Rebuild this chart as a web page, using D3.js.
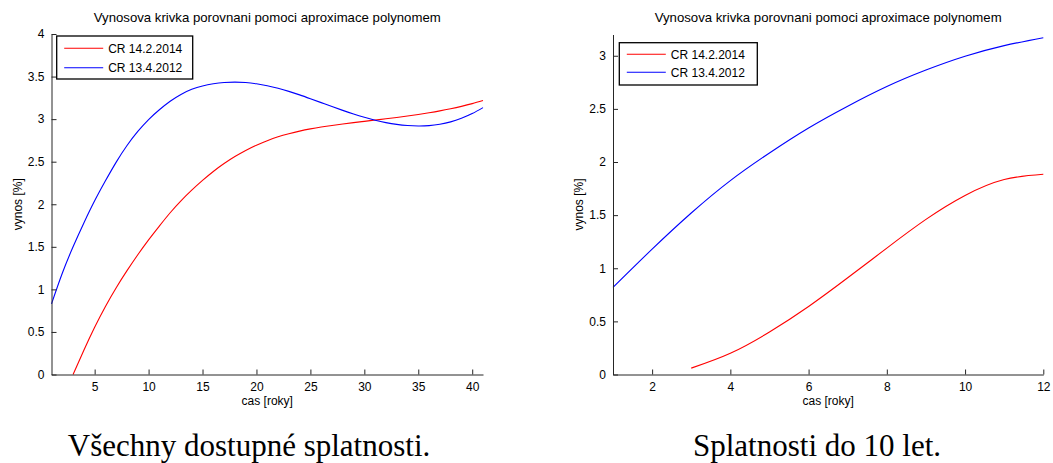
<!DOCTYPE html>
<html>
<head>
<meta charset="utf-8">
<script src="https://cdn.jsdelivr.net/npm/d3@7"></script>
<style>
  html, body { margin: 0; padding: 0; background: #fff; }
  svg { display: block; }
  .ax text { font-family: "Liberation Sans", Arial, sans-serif; font-size: 12px; fill: #000; }
  .caption { font-family: "Liberation Serif", "Times New Roman", serif; font-size: 31px; fill: #000; }
</style>
</head>
<body>
<svg id="fig" width="1053" height="463"></svg>
<script>
// Yield curve polynomial fits, Czech government bonds (maturity in years -> yield in %)
const titleText = "Vynosova krivka porovnani pomoci aproximace polynomem";
const xLabel = "cas [roky]";
const yLabel = "vynos [%]";
const seriesNames = ["CR 14.2.2014", "CR 13.4.2012"];
const seriesColors = ["#ff0000", "#0000ff"];

// Panel A: all available maturities
const allYears2014 = [3, 4, 5, 6, 7, 8, 9, 10, 11, 12, 13, 14, 15, 16, 17, 18, 19, 20, 21, 22, 23, 24, 25, 26, 27, 28, 29, 30, 31, 32, 33, 34, 35, 36, 37, 38, 39, 40, 41];
const allYield2014 = [0, 0.285, 0.555, 0.80, 1.02, 1.22, 1.407, 1.582, 1.744, 1.90, 2.04, 2.165, 2.28, 2.385, 2.478, 2.56, 2.632, 2.694, 2.747, 2.792, 2.828, 2.859, 2.885, 2.907, 2.926, 2.943, 2.959, 2.974, 2.989, 3.004, 3.02, 3.037, 3.055, 3.075, 3.097, 3.122, 3.15, 3.182, 3.219];
const allYears2012 = [1, 2, 3, 4, 5, 6, 7, 8, 9, 10, 11, 12, 13, 14, 15, 16, 17, 18, 19, 20, 21, 22, 23, 24, 25, 26, 27, 28, 29, 30, 31, 32, 33, 34, 35, 36, 37, 38, 39, 40, 41];
const allYield2012 = [0.83, 1.19, 1.50, 1.78, 2.04, 2.275, 2.495, 2.69, 2.855, 2.995, 3.11, 3.21, 3.29, 3.35, 3.39, 3.415, 3.43, 3.435, 3.43, 3.415, 3.392, 3.362, 3.326, 3.285, 3.24, 3.194, 3.148, 3.103, 3.06, 3.021, 2.987, 2.959, 2.938, 2.925, 2.92, 2.924, 2.94, 2.968, 3.01, 3.065, 3.135];
const allXTicks = [5, 10, 15, 20, 25, 30, 35, 40];
const allYTicks = [0, 0.5, 1, 1.5, 2, 2.5, 3, 3.5, 4];

// Panel B: maturities up to 10 years
const shortYears2014 = [3, 4, 5, 6, 7, 8, 9, 10, 11, 12];
const shortYield2014 = [0.06, 0.20, 0.40, 0.64, 0.91, 1.19, 1.46, 1.685, 1.835, 1.885];
const shortYears2012 = [1, 2, 3, 4, 5, 6, 7, 8, 9, 10, 11, 12];
const shortYield2012 = [0.82, 1.18, 1.52, 1.825, 2.085, 2.32, 2.525, 2.71, 2.865, 2.995, 3.095, 3.17];
const shortXTicks = [2, 4, 6, 8, 10, 12];
const shortYTicks = [0, 0.5, 1, 1.5, 2, 2.5, 3];

const captions = ["Všechny dostupné splatnosti.", "Splatnosti do 10 let."];

const svg = d3.select("#fig");
const axisColor = "#262626";

function drawPanel(cfg) {
  const x = d3.scaleLinear().domain(cfg.xDomain).range([cfg.left, cfg.right]);
  const y = d3.scaleLinear().domain(cfg.yDomain).range([cfg.bottom, cfg.top]);
  const g = svg.append("g").attr("class", "ax");

  // smooth fitted curves
  const line = d3.line()
    .x(d => x(d[0]))
    .y(d => y(d[1]))
    .curve(d3.curveNatural);
  cfg.series.forEach((s, i) => {
    g.append("path")
      .datum(d3.zip(s.xs, s.ys))
      .attr("fill", "none")
      .attr("stroke", seriesColors[i])
      .attr("stroke-width", 1.1)
      .attr("d", line);
  });

  // x axis with inward ticks
  const xAxis = g.append("g").attr("transform", `translate(0,${cfg.bottom})`)
    .call(d3.axisBottom(x).tickValues(cfg.xTicks).tickSizeInner(-5).tickSizeOuter(0).tickPadding(9)
      .tickFormat(d3.format("")));
  xAxis.select(".domain").attr("stroke", axisColor);
  xAxis.selectAll(".tick line").attr("stroke", axisColor);
  xAxis.selectAll("text").attr("dy", null).attr("y", 16);

  // y axis with inward ticks
  const yAxis = g.append("g").attr("transform", `translate(${cfg.left},0)`)
    .call(d3.axisLeft(y).tickValues(cfg.yTicks).tickSizeInner(-5).tickSizeOuter(0).tickPadding(7)
      .tickFormat(d3.format("")));
  yAxis.select(".domain").attr("stroke", axisColor);
  yAxis.selectAll(".tick line").attr("stroke", axisColor);

  // title and axis labels
  const cx = (cfg.left + cfg.right) / 2;
  g.append("text").attr("x", cx).attr("y", 22).attr("text-anchor", "middle")
    .style("font-size", "13.2px").text(titleText);
  g.append("text").attr("x", cx).attr("y", 405).attr("text-anchor", "middle").text(xLabel);
  g.append("text")
    .attr("transform", `translate(${cfg.left - 30},${(cfg.top + cfg.bottom) / 2}) rotate(-90)`)
    .attr("text-anchor", "middle").text(yLabel);

  // legend
  const L = cfg.legend;
  const lg = g.append("g");
  lg.append("rect").attr("x", L.x).attr("y", L.y).attr("width", L.w).attr("height", L.h)
    .attr("fill", "#fff").attr("stroke", "#000").attr("stroke-width", 1.3);
  seriesNames.forEach((name, i) => {
    const ry = L.y + L.row0 + i * L.step;
    lg.append("line").attr("x1", L.x + 7.5).attr("x2", L.x + 46.5).attr("y1", ry).attr("y2", ry)
      .attr("stroke", seriesColors[i]).attr("stroke-width", 1.1);
    lg.append("text").attr("x", L.x + 51.5).attr("y", ry + 4.3).text(name);
  });

  // caption below the panel
  svg.append("text").attr("class", "caption").attr("x", cfg.captionX).attr("y", 456)
    .attr("text-anchor", "middle").text(cfg.caption);
}

drawPanel({
  left: 51.5, right: 483, top: 34, bottom: 374.5,
  xDomain: [1, 41], yDomain: [0, 4],
  xTicks: allXTicks, yTicks: allYTicks,
  series: [{ xs: allYears2014, ys: allYield2014 }, { xs: allYears2012, ys: allYield2012 }],
  legend: { x: 56.7, y: 36, w: 136, h: 43, row0: 12.3, step: 19.4 },
  caption: captions[0], captionX: 249
});

drawPanel({
  left: 613, right: 1043.3, top: 34.5, bottom: 374.5,
  xDomain: [1, 12], yDomain: [0, 3.2],
  xTicks: shortXTicks, yTicks: shortYTicks,
  series: [{ xs: shortYears2014, ys: shortYield2014 }, { xs: shortYears2012, ys: shortYield2012 }],
  legend: { x: 619.3, y: 42.7, w: 138, h: 42.3, row0: 11.6, step: 18 },
  caption: captions[1], captionX: 817
});
</script>
</body>
</html>
